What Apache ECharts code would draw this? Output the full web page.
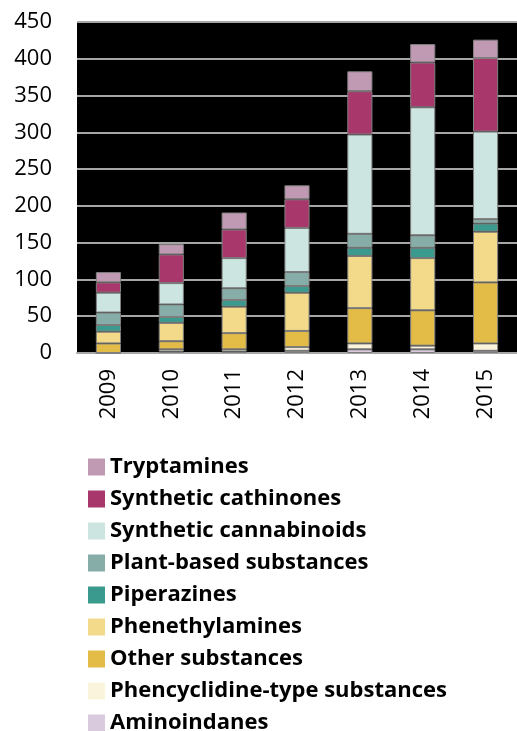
<!DOCTYPE html>
<html>
<head>
<meta charset="utf-8">
<script src="https://cdn.jsdelivr.net/npm/echarts@6/dist/echarts.min.js"></script>
<style>html,body{margin:0;padding:0;background:#fff;}#c{width:517px;height:731px;}</style>
</head>
<body>
<div id="c"></div>
<script>
var categories = ['2009','2010','2011','2012','2013','2014','2015'];
var yTicks = [0,50,100,150,200,250,300,350,400,450];
var aminoindanes = [0, 2, 2, 3, 5, 5, 3];
var phencyclidine = [0, 3, 3, 5, 8, 5, 10];
var otherSubstances = [13, 11, 22, 22, 48, 48, 83];
var phenethylamines = [16, 25, 36, 52, 71, 71, 69];
var piperazines = [9, 8, 9, 9, 11, 14, 11];
var plantBased = [17, 17, 16, 19, 19, 17, 6];
var cannabinoids = [27, 29, 41, 60, 135, 174, 119];
var cathinones = [14, 39, 39, 39, 59, 61, 100];
var tryptamines = [14, 14, 23, 19, 27, 25, 25];

var seriesDefs = [
  ['Aminoindanes', aminoindanes, '#D9CBDD'],
  ['Phencyclidine-type substances', phencyclidine, '#FBF4DC'],
  ['Other substances', otherSubstances, '#E3BC48'],
  ['Phenethylamines', phenethylamines, '#F2DA8A'],
  ['Piperazines', piperazines, '#3A9A8E'],
  ['Plant-based substances', plantBased, '#87ADA9'],
  ['Synthetic cannabinoids', cannabinoids, '#CCE5E0'],
  ['Synthetic cathinones', cathinones, '#A8386B'],
  ['Tryptamines', tryptamines, '#C09AB3']
];

var chart = echarts.init(document.getElementById('c'), null, {renderer:'canvas'});
chart.setOption({
  animation: false,
  grid: {left: 77, top: 22, bottom: 378, right: -12, show: true, backgroundColor: '#000', borderWidth: 0},
  legend: {
    orient: 'vertical', left: 83, top: 451, height: 320,
    data: seriesDefs.map(function(d){return d[0];}).reverse(),
    itemWidth: 17, itemHeight: 17, itemGap: 10,
    icon: 'rect',
    itemStyle: {borderWidth: 0},
    textStyle: {fontFamily: 'Open Sans', fontWeight: 'bold', fontSize: 22, color: '#000', lineHeight: 20}
  },
  xAxis: {
    type: 'category', data: categories,
    axisLine: {show: true, lineStyle: {color: '#A6A6A6', width: 2}},
    axisTick: {show: false},
    axisLabel: {rotate: 90, margin: 16, fontFamily: 'Open Sans', fontSize: 22, color: '#000'}
  },
  yAxis: {
    type: 'value', min: yTicks[0], max: yTicks[yTicks.length-1], interval: 50,
    axisLine: {show: false}, axisTick: {show: false},
    splitLine: {lineStyle: {color: '#A6A6A6', width: 2}},
    axisLabel: {margin: 25, fontFamily: 'Open Sans', fontSize: 22, color: '#000'}
  },
  series: seriesDefs.map(function(d){
    return {
      name: d[0], type: 'bar', stack: 'total', data: d[1], barWidth: '40%',
      itemStyle: {color: d[2], borderColor: '#7F7F7F', borderWidth: 1}
    };
  })
});
</script>
</body>
</html>
